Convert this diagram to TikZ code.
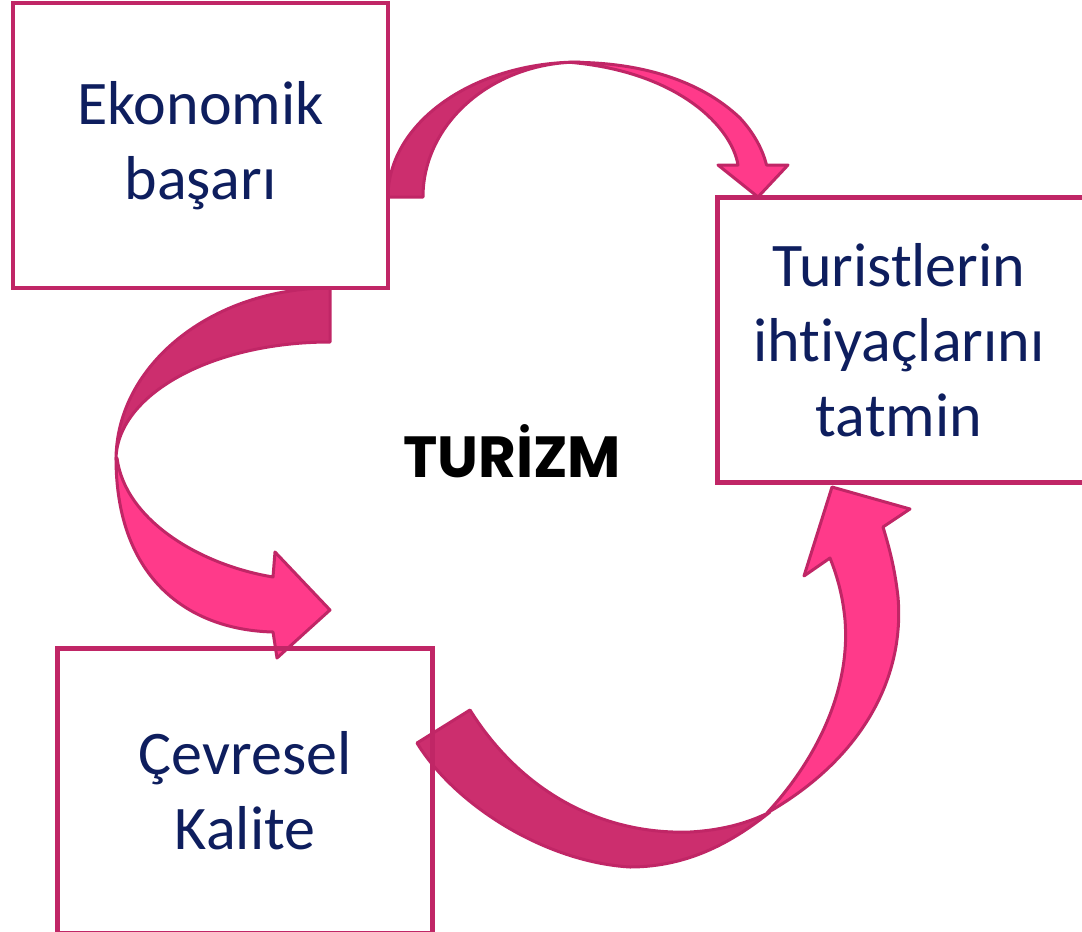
\documentclass[tikz,border=0pt]{standalone}
\usepackage{fontspec}
\setmainfont{Carlito}[Ligatures=CommonOff]
\newfontfamily\turfont{Poppins}
\definecolor{boxline}{RGB}{192,38,102}
\definecolor{darkpink}{RGB}{204,46,110}
\definecolor{lightpink}{RGB}{255,58,138}
\definecolor{navy}{RGB}{14,30,94}
\tikzset{
  box/.style={draw=boxline, line width=4.5pt, minimum width=375pt, minimum height=285pt,
              inner sep=0pt, align=center, text=navy, font=\fontsize{62}{75}\selectfont},
  darkband/.style={fill=darkpink, draw=boxline, line width=3pt, line join=round},
  lightband/.style={fill=lightpink, draw=boxline, line width=3pt, line join=round},
}
\begin{document}
\begin{tikzpicture}[x=1pt,y=-1pt]
\useasboundingbox (0,0) rectangle (1082,932);
\clip (0,0) rectangle (1082,932);
% ---- arrow 1: Ekonomik basari -> Turistlerin
\path[darkband] (388,197) arc[start angle=180,end angle=90,x radius=192pt,y radius=135pt]
   arc[start angle=90,end angle=180,x radius=157pt,y radius=135pt] -- cycle;
\path[lightband] (570,62.3) .. controls (640,62) and (700,80) .. (740,118)
   .. controls (752,131) and (762,147) .. (766.5,165)
   -- (788,165) -- (758,197) -- (718,165) -- (738,165)
   .. controls (732,128) and (680,72) .. (570,62.3) -- cycle;
% ---- arrow 2: Ekonomik basari -> Cevresel Kalite
\path[darkband] (330,288) arc[start angle=90,end angle=180,x radius=214pt,y radius=172pt]
   arc[start angle=180,end angle=90,x radius=214pt,y radius=118pt] -- cycle;
\path[lightband] (116,458) .. controls (116,580) and (190,630) .. (273,632)
   -- (277,658) -- (330,610) -- (275,552) -- (273,577)
   .. controls (200,565) and (125,520) .. (117,458) -- cycle;
% ---- arrow 3: Cevresel Kalite -> Turistlerin
\path[darkband] (417,743) .. controls (455,805) and (545,862) .. (630,867)
   .. controls (690,867) and (735,840) .. (770,812)
   .. controls (750,822) and (725,830) .. (690,832)
   .. controls (600,835) and (520,790) .. (470,710) -- cycle;
\path[lightband] (767,813) .. controls (860,760) and (905,680) .. (898,597)
   .. controls (895,570) and (890,550) .. (883,527)
   -- (910,509) -- (832,487) -- (804,576) -- (830,558)
   .. controls (838,578) and (843,598) .. (845,620)
   .. controls (850,680) and (825,750) .. (767,813) -- cycle;
% ---- boxes
\node[box] (eko) at (200.5,145.5) {Ekonomik\\başarı};
\node[box] (tur) at (905,340) {\hspace*{-12pt}Turistlerin\\\hspace*{-12pt}ihtiyaçlarını\\\hspace*{-12pt}tatmin};
\node[box] (cev) at (245,791) {Çevresel\\Kalite};
% ---- centre
\node (tz) at (512,451) {\turfont\bfseries\fontsize{58}{70}\selectfont TURİZM};
\end{tikzpicture}
\end{document}
